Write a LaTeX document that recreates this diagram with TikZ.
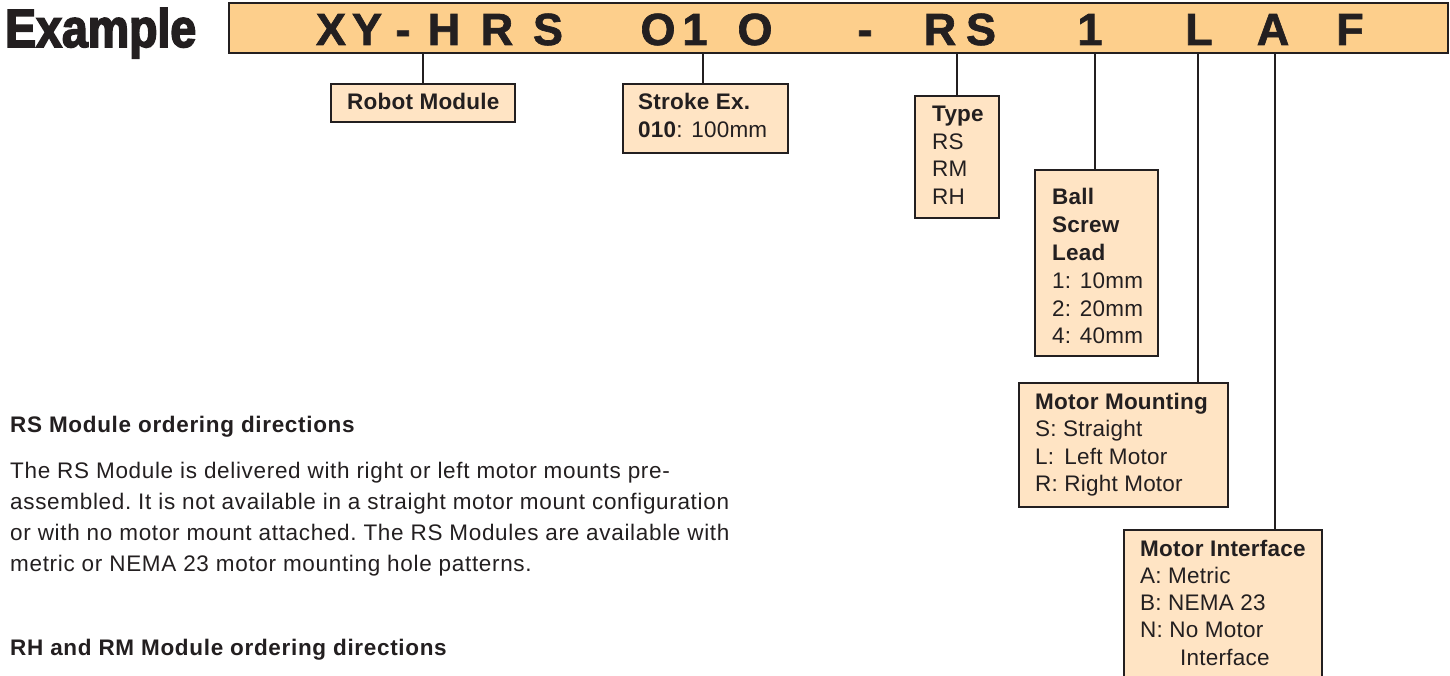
\documentclass[tikz,border=0pt]{standalone}
\usepackage{fontspec}
\setmainfont{Liberation Sans}
\newfontfamily\exfont[FakeStretch=0.86,FakeBold=3]{Liberation Sans Bold}
\newfontfamily\hfont[FakeBold=1.5]{Liberation Sans Bold}
\newfontfamily\parafont[LetterSpace=3]{Liberation Sans}
\newfontfamily\boxfont[LetterSpace=1]{Liberation Sans}
\definecolor{dk}{HTML}{231F20}
\definecolor{hdrfill}{HTML}{FDCF8C}
\definecolor{optfill}{HTML}{FFE4C4}
\tikzset{
  conn/.style={draw=dk, line width=2.2pt},
  hdrbox/.style={draw=dk, fill=hdrfill, line width=2.8pt, inner sep=0pt, outer sep=0pt, anchor=north west},
  optbox/.style={draw=dk, fill=optfill, line width=2.5pt, inner sep=0pt, outer sep=0pt, anchor=north west},
  hletter/.style={anchor=base, inner sep=0pt, text=dk, font=\hfont\fontsize{45}{50}\selectfont},
  btxt/.style={anchor=base west, inner sep=0pt, text=dk, font=\boxfont\fontsize{22.5}{26}\selectfont},
  bhead/.style={btxt, font=\boxfont\fontsize{22.5}{26}\selectfont\bfseries},
  ptxt/.style={anchor=base west, inner sep=0pt, text=dk, font=\parafont\fontsize{22.5}{26}\selectfont\frenchspacing},
  phead/.style={ptxt, font=\parafont\fontsize{22.5}{26}\selectfont\bfseries},
}
\begin{document}
\begin{tikzpicture}[x=1pt,y=-1pt]
\clip (0,0) rectangle (1450,676);
\fill[white] (0,0) rectangle (1450,676);
% title
\node[anchor=base west, inner sep=0pt, text=dk, font=\exfont\fontsize{54}{60}\selectfont] (ex) at (5,47) {Example};
% header
\node[hdrbox, minimum width=1219pt, minimum height=50pt] (hdr) at (229,3) {};
\foreach \c/\x [count=\i] in {X/331,Y/367,-/403,H/444,R/497,S/548,O/658,1/695,O/755,-/865,R/940,S/981,1/1090,L/1199,A/1273,F/1350}
  \node[hletter] (L\i) at (\x,45) {\c};
% connector x positions
\coordinate (xrm) at (423,0);
\coordinate (xst) at (703,0);
\coordinate (xty) at (957,0);
\coordinate (xbs) at (1095,0);
\coordinate (xmm) at (1198,0);
\coordinate (xmi) at (1275,0);
% boxes
\node[optbox, minimum width=184pt, minimum height=38pt] (rm) at (331,84) {};
\node[optbox, minimum width=165pt, minimum height=69pt] (st) at (623,84) {};
\node[optbox, minimum width=84pt, minimum height=122pt] (ty) at (915,96) {};
\node[optbox, minimum width=123pt, minimum height=186pt] (bs) at (1035,170) {};
\node[optbox, minimum width=209pt, minimum height=124pt] (mm) at (1019,383) {};
\node[optbox, minimum width=198pt, minimum height=170pt] (mi) at (1124,530) {};
% connectors
\draw[conn] (xrm |- hdr.south) -- (xrm |- rm.north);
\draw[conn] (xst |- hdr.south) -- (xst |- st.north);
\draw[conn] (xty |- hdr.south) -- (xty |- ty.north);
\draw[conn] (xbs |- hdr.south) -- (xbs |- bs.north);
\draw[conn] (xmm |- hdr.south) -- (xmm |- mm.north);
\draw[conn] (xmi |- hdr.south) -- (xmi |- mi.north);
% box texts
\node[bhead] (rm1) at (347,110) {Robot Module};
\node[bhead] (st1) at (638,110) {Stroke Ex.};
\node[btxt] (st2) at (638,137.5) {\textbf{010}: 100mm};
\node[bhead] (ty1) at (932,122) {Type};
\node[btxt] (ty2) at (932,149.5) {RS};
\node[btxt] (ty3) at (932,177) {RM};
\node[btxt] (ty4) at (932,204.5) {RH};
\node[bhead] (bs1) at (1052,205) {Ball};
\node[bhead] (bs2) at (1052,233) {Screw};
\node[bhead] (bs3) at (1052,261) {Lead};
\node[btxt] (bs4) at (1052,288) {1: 10mm};
\node[btxt] (bs5) at (1052,316) {2: 20mm};
\node[btxt] (bs6) at (1052,343) {4: 40mm};
\node[bhead] (mm1) at (1035,409) {Motor Mounting};
\node[btxt] (mm2) at (1035,436) {S: Straight};
\node[btxt] (mm3) at (1035,464) {L:\hspace{0.45em}Left Motor};
\node[btxt] (mm4) at (1035,491) {R: Right Motor};
\node[bhead] (mi1) at (1140,556) {Motor Interface};
\node[btxt] (mi2) at (1140,583) {A: Metric};
\node[btxt] (mi3) at (1140,610) {B: NEMA 23};
\node[btxt] (mi4) at (1140,637) {N: No Motor};
\node[btxt] (mi5) at (1180,665) {Interface};
% paragraph
\node[phead] (p0) at (10,432) {RS Module ordering directions};
\node[ptxt] (p1) at (10,478) {The RS Module is delivered with right or left motor mounts pre-};
\node[ptxt] (p2) at (10,509) {assembled. It is not available in a straight motor mount configuration};
\node[ptxt] (p3) at (10,540) {or with no motor mount attached. The RS Modules are available with};
\node[ptxt] (p4) at (10,571) {metric or NEMA 23 motor mounting hole patterns.};
\node[phead] (p5) at (10,655) {RH and RM Module ordering directions};
\end{tikzpicture}
\end{document}
